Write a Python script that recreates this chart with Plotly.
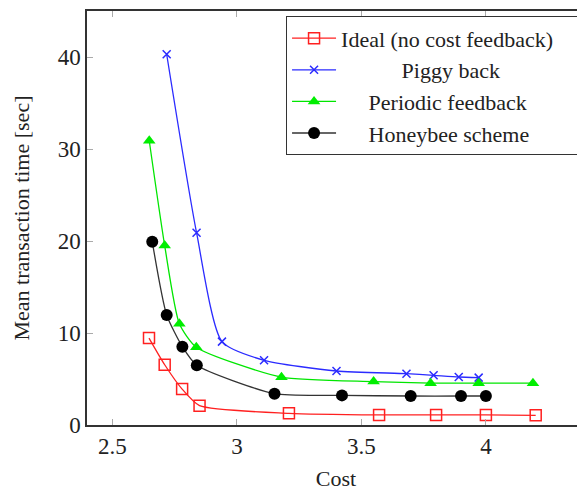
import plotly.graph_objects as go

ideal_x = [2.647, 2.71, 2.78, 2.85, 3.209, 3.571, 3.80, 4.0, 4.20]
ideal_y = [9.45, 6.55, 3.9, 2.1, 1.27, 1.1, 1.1, 1.1, 1.05]

piggy_x = [2.718, 2.838, 2.94, 3.109, 3.40, 3.681, 3.79, 3.891, 3.971]
piggy_y = [40.3, 20.9, 9.06, 7.03, 5.87, 5.58, 5.4, 5.22, 5.15]

periodic_x = [2.648, 2.71, 2.769, 2.837, 3.179, 3.549, 3.778, 3.971, 4.189]
periodic_y = [30.9, 19.5, 11.0, 8.45, 5.2, 4.72, 4.55, 4.55, 4.55]

honey_x = [2.66, 2.718, 2.781, 2.839, 3.151, 3.422, 3.698, 3.90, 4.0]
honey_y = [19.93, 11.96, 8.51, 6.49, 3.4, 3.22, 3.15, 3.15, 3.15]

names = ["Ideal (no cost feedback)", "Piggy back", "Periodic feedback", "Honeybee scheme"]
# non-breaking spaces to centre the legend labels in a box as wide as the reference's
name_pad_left = [0, 11, 5, 5]
name_pad_right = [4, 0, 0, 0]
x_ticks = [2.5, 3, 3.5, 4]
y_ticks = [0, 10, 20, 30, 40]

FONT = "Liberation Serif, Times New Roman, serif"
TXT = "#222222"

labels = ["\u00a0" * a + n + "\u00a0" * b for a, n, b in zip(name_pad_left, names, name_pad_right)]

fig = go.Figure()
fig.add_trace(go.Scatter(
    x=ideal_x, y=ideal_y, name=labels[0], mode="lines+markers",
    line=dict(color="#ff2020", width=1.3, shape="spline", smoothing=0.6),
    marker=dict(symbol="square-open", size=11, color="#ff2020", line=dict(width=1.5))))
fig.add_trace(go.Scatter(
    x=piggy_x, y=piggy_y, name=labels[1], mode="lines+markers",
    line=dict(color="#2b2bff", width=1.3, shape="spline", smoothing=0.6),
    marker=dict(symbol="x-thin-open", size=8, color="#2b2bff", line=dict(width=1.5, color="#2b2bff"))))
fig.add_trace(go.Scatter(
    x=periodic_x, y=periodic_y, name=labels[2], mode="lines+markers",
    line=dict(color="#00e600", width=1.3, shape="spline", smoothing=0.6),
    marker=dict(symbol="triangle-up", size=11, color="#00ee00")))
fig.add_trace(go.Scatter(
    x=honey_x, y=honey_y, name=labels[3], mode="lines+markers",
    line=dict(color="#333333", width=1.3, shape="spline", smoothing=0.6),
    marker=dict(symbol="circle", size=12, color="black")))

axis_common = dict(
    showline=True, linecolor="#333333", linewidth=1.5, mirror="ticks",
    ticks="inside", ticklen=6, tickcolor="#aaaaaa", tickwidth=1,
    showgrid=False, zeroline=False, automargin=False,
    tickfont=dict(family=FONT, size=23, color=TXT),
)

# the page body adds an 8px margin, so the figure is 8px smaller on each side
fig.update_layout(
    width=577, height=483,
    margin=dict(l=79, r=0, t=3, b=66),
    paper_bgcolor="white", plot_bgcolor="white",
    font=dict(family=FONT, color=TXT),
    xaxis=dict(range=[2.398, 4.398], tickvals=x_ticks, ticktext=[str(v) for v in x_ticks],
               title=dict(text="Cost", font=dict(family=FONT, size=22, color=TXT), standoff=28),
               **axis_common),
    yaxis=dict(range=[0, 45], tickvals=y_ticks, ticktext=[str(v) for v in y_ticks],
               title=dict(text="Mean transaction time [sec]", font=dict(family=FONT, size=22, color=TXT), standoff=22),
               **axis_common),
    legend=dict(x=0.3997, y=0.987, xanchor="left", yanchor="top",
                bgcolor="white", bordercolor="#333333", borderwidth=1,
                font=dict(family=FONT, size=22, color=TXT),
                tracegroupgap=0, itemwidth=44),
    showlegend=True,
)

fig.write_html("out.html")
